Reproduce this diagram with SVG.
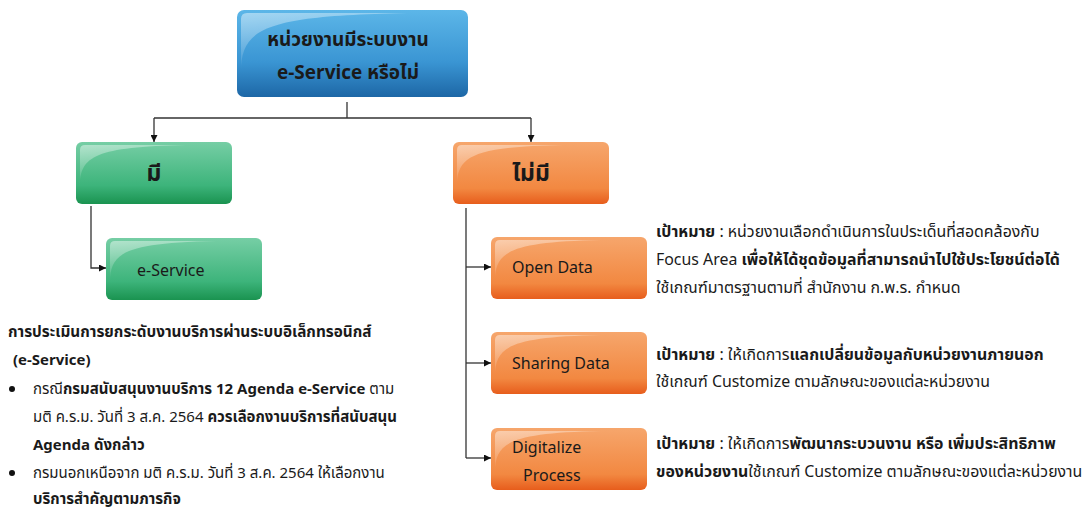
<svg xmlns="http://www.w3.org/2000/svg" width="1092" height="511" viewBox="0 0 1092 511">
<style>
text{font-family:"Noto Sans Thai","Noto Sans","DejaVu Sans",sans-serif;fill:#1a1a1a}
.b{font-weight:bold}
.big{font-size:19px;font-weight:bold;text-anchor:middle}
.hd{font-size:23px;font-weight:bold;text-anchor:middle}
.lbl{font-size:16px}
.d{font-size:15px}
.r{font-size:15.9px}
.ln{stroke:#333;stroke-width:1.3;fill:none}
</style>
<defs>
<linearGradient id="gG" x1="0" y1="0" x2="0" y2="1">
<stop offset="0" stop-color="#76cea5"/><stop offset="0.7" stop-color="#3db47b"/><stop offset="1" stop-color="#1a9350"/>
</linearGradient>
<linearGradient id="gO" x1="0" y1="0" x2="0" y2="1">
<stop offset="0" stop-color="#f6a66c"/><stop offset="0.75" stop-color="#f28841"/><stop offset="1" stop-color="#e75d1c"/>
</linearGradient>
<linearGradient id="gB" x1="0" y1="0" x2="0" y2="1">
<stop offset="0" stop-color="#5cb6e8"/><stop offset="0.6" stop-color="#3a95d3"/><stop offset="1" stop-color="#1d67a6"/>
</linearGradient>
<linearGradient id="gl" x1="0" y1="0" x2="0.3" y2="1">
<stop offset="0" stop-color="#fff" stop-opacity="0.45"/><stop offset="1" stop-color="#fff" stop-opacity="0"/>
</linearGradient>
<path id="gloss" d="M4,44 C4,14 20,5 110,3 L9,3 Q4,3 4,8 Z" fill="url(#gl)"/>
<path id="glossB" d="M4,62 C4,18 28,6 170,3 L10,3 Q4,3 4,9 Z" fill="url(#gl)"/>
<marker id="ar" viewBox="0 0 10 10" refX="10" refY="5" markerWidth="7" markerHeight="7" orient="auto" markerUnits="userSpaceOnUse">
<path d="M0,0 L10,5 L0,10 Z" fill="#111"/>
</marker>
</defs>

<g id="connectors">
<path class="ln" d="M347,102 V118"/>
<path class="ln" d="M154,118 H531"/>
<path class="ln" d="M154,118 V142" marker-end="url(#ar)"/>
<path class="ln" d="M531,118 V142" marker-end="url(#ar)"/>
<path class="ln" d="M91,206 V268 H106" marker-end="url(#ar)"/>
<path class="ln" d="M466,208 V458"/>
<path class="ln" d="M466,267 H491" marker-end="url(#ar)"/>
<path class="ln" d="M466,363 H491" marker-end="url(#ar)"/>
<path class="ln" d="M466,458 H491" marker-end="url(#ar)"/>
</g>

<g id="top">
<rect x="237" y="10" width="231" height="87" rx="7" fill="url(#gB)"/>
<use href="#glossB" transform="translate(237,10)"/>
<text class="big" x="348" y="46">หน่วยงานมีระบบงาน</text>
<text class="big" x="348" y="79">e-Service หรือไม่</text>
</g>

<g id="yes">
<rect x="76" y="142" width="156" height="62" rx="6" fill="url(#gG)"/>
<use href="#gloss" transform="translate(76,142)"/>
<text class="hd" x="154" y="181">มี</text>
</g>

<g id="no">
<rect x="453" y="142" width="156" height="62" rx="6" fill="url(#gO)"/>
<use href="#gloss" transform="translate(453,142)"/>
<text class="hd" x="531" y="181">ไม่มี</text>
</g>

<g id="eservice">
<rect x="106" y="238" width="156" height="62" rx="6" fill="url(#gG)"/>
<use href="#gloss" transform="translate(106,238)"/>
<text class="lbl" x="137" y="276">e-Service</text>
</g>

<g id="opendata">
<rect x="491" y="237" width="156" height="62" rx="6" fill="url(#gO)"/>
<use href="#gloss" transform="translate(491,237)"/>
<text class="lbl" x="512" y="273">Open Data</text>
</g>

<g id="sharing">
<rect x="491" y="332" width="156" height="62" rx="6" fill="url(#gO)"/>
<use href="#gloss" transform="translate(491,332)"/>
<text class="lbl" x="512" y="369">Sharing Data</text>
</g>

<g id="digitalize">
<rect x="491" y="428" width="156" height="62" rx="6" fill="url(#gO)"/>
<use href="#gloss" transform="translate(491,428)"/>
<text class="lbl" x="512" y="453">Digitalize</text>
<text class="lbl" x="523" y="481">Process</text>
</g>

<g id="left-notes">
<text class="d b" x="8" y="337" style="font-size:15.3px">การประเมินการยกระดับงานบริการผ่านระบบอิเล็กทรอนิกส์</text>
<text class="d b" x="13" y="365">(e-Service)</text>
<circle cx="12" cy="389" r="3" fill="#111"/>
<text class="d" x="33" y="394">กรณี<tspan class="b">กรมสนับสนุนงานบริการ 12 Agenda e-Service</tspan> ตาม</text>
<text class="d" x="33" y="422">มติ ค.ร.ม. วันที่ 3 ส.ค. 2564 <tspan class="b">ควรเลือกงานบริการที่สนับสนุน</tspan></text>
<text class="d b" x="33" y="450">Agenda ดังกล่าว</text>
<circle cx="12" cy="473" r="3" fill="#111"/>
<text class="d" x="33" y="478">กรมนอกเหนือจาก มติ ค.ร.ม. วันที่ 3 ส.ค. 2564 ให้เลือกงาน</text>
<text class="d b" x="33" y="504">บริการสำคัญตามภารกิจ</text>
</g>

<g id="notes-open">
<text class="r" x="656" y="237"><tspan class="b">เป้าหมาย</tspan> : หน่วยงานเลือกดำเนินการในประเด็นที่สอดคล้องกับ</text>
<text class="r" x="656" y="265">Focus Area <tspan class="b">เพื่อให้ได้ชุดข้อมูลที่สามารถนำไปใช้ประโยชน์ต่อได้</tspan></text>
<text class="r" x="656" y="293">ใช้เกณฑ์มาตรฐานตามที่ สำนักงาน ก.พ.ร. กำหนด</text>
</g>
<g id="notes-sharing">
<text class="r" x="656" y="360"><tspan class="b">เป้าหมาย</tspan> : ให้เกิดการ<tspan class="b">แลกเปลี่ยนข้อมูลกับหน่วยงานภายนอก</tspan></text>
<text class="r" x="656" y="387">ใช้เกณฑ์ Customize ตามลักษณะของแต่ละหน่วยงาน</text>
</g>
<g id="notes-digital">
<text class="r" x="656" y="449"><tspan class="b">เป้าหมาย</tspan> : ให้เกิดการ<tspan class="b">พัฒนากระบวนงาน หรือ เพิ่มประสิทธิภาพ</tspan></text>
<text class="r" x="656" y="477"><tspan class="b">ของหน่วยงาน</tspan>ใช้เกณฑ์ Customize ตามลักษณะของแต่ละหน่วยงาน</text>
</g>
</svg>
